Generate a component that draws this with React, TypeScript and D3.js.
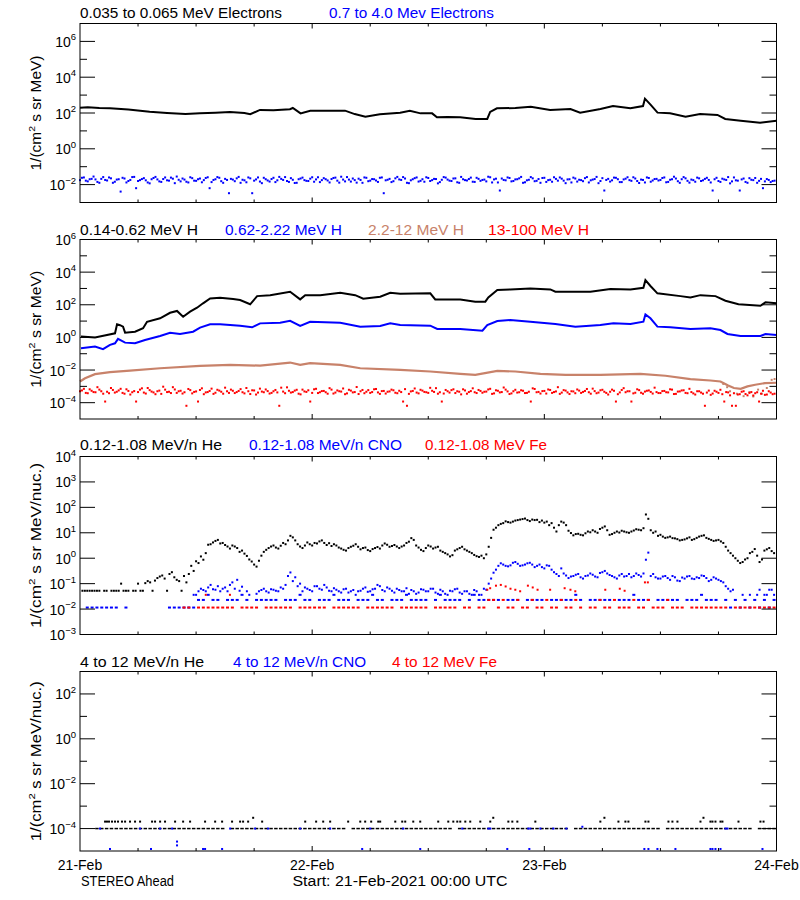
import React from "react";
import * as d3 from "d3";

// ---------- data (hours since 21-Feb-2021 00:00 UTC, log10 flux) ----------
const dayLabels = ["21-Feb", "22-Feb", "23-Feb", "24-Feb"];
const dayHours = [0, 24, 48, 72];

// Panel 1: 0.035-0.065 MeV electrons  [hour, log10]
const electronsLowLog10: [number, number][] = [[0,2.3],[0.8,2.32],[2,2.28],[3.1,2.26],[5,2.2],[7.2,2.07],[9,2.0],[10.9,1.94],[12.4,1.98],[14,2.02],[15.5,2.06],[17,2.0],[17.6,1.93],[18.6,2.17],[20,2.15],[21.7,2.21],[22.0,2.28],[22.8,1.98],[23.8,2.13],[25.5,2.12],[27.4,2.13],[28.4,1.94],[29.5,1.79],[31,1.93],[33.1,2.02],[34.1,2.13],[35.2,1.98],[36.4,1.98],[36.9,1.76],[38,1.77],[39.3,1.76],[40.9,1.67],[42.1,1.67],[42.4,2.06],[43.1,2.26],[45,2.28],[46.6,2.35],[48.6,2.17],[50.7,2.22],[51.7,2.02],[53.8,2.22],[55.1,2.39],[56.9,2.26],[58.2,2.39],[58.4,2.8],[59.0,2.45],[59.7,2.02],[61,1.98],[62.6,1.79],[64.1,1.94],[65.9,1.89],[66.7,1.67],[68.3,1.57],[70.3,1.46],[72,1.57]];

// Panel 1: 0.7-4.0 MeV electrons, sample A every 0.4 h from 0.2 h, sample B every 0.4 h from 0 h
const electronsHighLog10: number[] = [
-1.62,-1.78,-1.70,-1.55,-1.85,-1.68,-1.74,-1.60,-1.90,-1.72,
-2.39,-1.66,-1.80,-1.58,-2.20,-1.75,-1.64,-1.88,-1.70,-1.57,
-1.82,-1.69,-1.76,-1.61,-1.92,-1.73,-1.66,-1.84,-1.59,-1.78,
-1.70,-1.87,-1.63,-2.20,-1.74,-1.58,-1.81,-1.68,-2.48,-1.72,
-1.65,-1.90,-1.76,-1.60,-2.48,-1.71,-1.83,-1.62,-1.77,-1.69,
-1.86,-1.57,-1.74,-1.80,-1.64,-1.91,-1.70,-1.61,-1.79,-1.67,
-1.84,-1.59,-1.75,-1.70,-1.88,-1.63,-1.78,-1.56,-1.82,-1.72,
-1.66,-1.89,-1.74,-1.60,-1.81,-1.69,-1.77,-1.62,-2.48,-1.73,
-1.86,-1.65,-1.71,-1.58,-1.90,-1.76,-1.64,-1.83,-1.70,-1.59,
-1.80,-1.68,-1.93,-1.73,-1.61,-1.78,-1.66,-1.87,-1.57,-1.75,
-1.69,-1.84,-1.62,-1.79,-1.72,-1.56,-1.88,-1.67,-2.33,-1.74,
-1.60,-1.82,-1.71,-1.65,-1.90,-1.76,-1.58,-1.81,-1.69,-1.63,
-1.85,-1.73,-1.59,-1.78,-1.67,-1.92,-1.70,-1.61,-1.83,-1.75,
-1.64,-1.88,-1.72,-1.57,-1.80,-2.33,-1.68,-1.76,-1.62,-1.86,
-1.71,-1.59,-1.79,-1.66,-1.91,-1.74,-1.60,-1.84,-1.69,-1.77,
-1.63,-1.87,-1.73,-1.56,-1.81,-1.70,-1.65,-1.89,-1.75,-1.61,
-1.80,-1.68,-1.74,-2.33,-1.62,-1.85,-1.71,-1.58,-1.82,-1.76,
-2.33,-1.66,-1.90,-1.73,-1.63,-1.79,-2.20,-1.69,-1.86,-1.78];
const electronsHighBLog10: number[] = [
-1.75,-1.6,-1.82,-1.68,-1.71,-1.9,-1.58,-1.77,-1.65,-1.84,
-1.7,-1.62,-1.88,-1.74,-1.57,-1.8,-1.69,-1.76,-1.93,-1.63,
-1.71,-1.85,-1.6,-1.78,-1.67,-1.55,-1.82,-1.72,-1.88,-1.64,
-1.79,-1.66,-1.75,-1.59,-1.86,-1.7,-1.62,-1.9,-1.74,-1.68,
-1.81,-1.57,-1.73,-1.87,-1.65,-1.78,-1.6,-1.92,-1.7,-1.83,
-1.62,-1.76,-1.68,-1.58,-1.85,-1.73,-1.9,-1.66,-1.75,-1.8,
-1.59,-1.71,-1.86,-1.64,-1.77,-1.69,-1.61,-1.89,-1.72,-1.58,
-1.83,-1.75,-1.67,-1.9,-1.62,-1.78,-1.7,-1.85,-1.6,-1.76,
-1.68,-1.81,-1.57,-1.74,-1.66,-1.92,-1.7,-1.6,-1.79,-1.84,
-1.63,-1.75,-1.69,-1.86,-1.58,-1.72,-1.8,-1.65,-1.9,-1.7,
-1.77,-1.61,-1.85,-1.68,-1.74,-1.82,-1.59,-1.71,-1.88,-1.66,
-1.76,-1.63,-1.8,-1.7,-1.57,-1.87,-1.73,-1.65,-1.79,-1.9,
-1.62,-1.75,-1.84,-1.68,-1.6,-1.78,-1.71,-1.88,-1.66,-1.73,
-1.81,-1.58,-1.76,-1.69,-1.92,-1.64,-1.74,-1.83,-1.61,-1.7,
-1.86,-1.67,-1.75,-1.59,-1.8,-1.72,-1.88,-1.63,-1.77,-1.68,
-1.74,-1.6,-1.85,-1.7,-1.66,-1.9,-1.58,-1.79,-1.72,-1.84,
-1.65,-1.76,-1.62,-1.88,-1.7,-1.8,-1.67,-1.74,-1.93,-1.6,
-1.78,-1.71,-1.85,-1.64,-1.75,-1.9,-1.68,-1.82,-1.74,-1.8];

// Panel 2: protons [hour, log10]
const protonsLowLog10: [number, number][] = [[0.1,0.05],[1.55,-0.01],[2.79,0.15],[3.62,0.25],[3.83,0.8],[4.14,0.75],[4.45,0.66],[4.66,0.29],[5.69,0.35],[6.52,0.56],[6.93,0.96],[8.28,1.17],[9.31,1.51],[10.03,1.62],[10.66,1.27],[11.38,1.58],[12.1,1.82],[12.72,2.09],[13.45,2.39],[14.48,2.43],[15.83,2.35],[16.55,2.29],[17.59,2.03],[18.31,2.53],[19.66,2.59],[21.72,2.8],[22.76,2.33],[23.28,2.59],[24.83,2.59],[26.9,2.73],[28.45,2.59],[29.28,2.37],[31.03,2.49],[32.07,2.73],[33.1,2.68],[36.21,2.7],[36.72,2.33],[39.31,2.33],[40.86,2.19],[41.9,2.19],[42.21,2.45],[43.14,2.9],[44.48,2.94],[46.55,3.0],[48.62,2.94],[49.14,2.8],[51.21,2.8],[52.76,2.8],[54.83,2.96],[56.9,2.94],[58.24,3.04],[58.45,3.51],[58.97,3.15],[59.69,2.7],[62.07,2.53],[63.1,2.45],[64.14,2.59],[65.69,2.53],[66.72,2.25],[68.07,2.03],[70.34,1.94],[70.86,2.15],[72,2.09]];
const protonsMidLog10: [number, number][] = [[0.1,-0.66],[1.55,-0.56],[2.38,-0.72],[3.1,-0.46],[3.62,-0.36],[3.93,-0.09],[4.66,-0.32],[5.69,-0.36],[6.72,-0.16],[8.28,0.09],[9.31,0.29],[10.34,0.21],[11.69,0.35],[12.41,0.6],[13.45,0.8],[14.48,0.8],[16.55,0.72],[17.79,0.62],[18.62,0.86],[20.69,0.9],[21.72,1.02],[22.76,0.7],[23.79,0.96],[26.9,0.9],[28.97,0.66],[31.03,0.7],[32.07,0.86],[33.1,0.76],[36.21,0.72],[36.93,0.52],[39.31,0.52],[41.6,0.41],[42.1,0.76],[43.14,1.0],[44.48,1.07],[46.55,0.96],[49.14,0.82],[51.21,0.66],[53.79,0.76],[55.14,0.86],[56.9,0.82],[58.24,0.96],[58.45,1.41],[58.97,1.17],[59.69,0.66],[61.03,0.62],[63.1,0.52],[65.17,0.56],[66.21,0.45],[66.93,0.21],[68.28,0.09],[70.34,0.09],[70.86,0.21],[72,0.15]];
const protonsHighLog10: [number, number][] = [[0,-2.7],[0.52,-2.5],[1.55,-2.25],[3.1,-2.13],[5.17,-2.03],[8.28,-1.89],[12.41,-1.74],[15.52,-1.68],[18.62,-1.73],[21.72,-1.54],[22.76,-1.68],[23.79,-1.58],[26.9,-1.68],[28.97,-1.89],[33.1,-1.99],[36.21,-2.09],[39.31,-2.23],[40.86,-2.29],[43.14,-2.05],[45.0,-2.09],[47.6,-2.23],[50.2,-2.29],[53.79,-2.29],[57.93,-2.23],[60.52,-2.35],[63.1,-2.56],[65.17,-2.64],[66.21,-2.7],[67.0,-2.95],[67.6,-3.1],[68.3,-3.15],[69.0,-3.0],[69.8,-2.9],[70.8,-2.8],[72,-2.78]];
const protonsHighScatterLog10: [number, number][] = [[66.5,-2.85],[66.9,-3.05],[67.2,-3.3],[67.9,-3.45],[68.6,-3.6],[69.2,-3.35],[69.6,-3.62],[70.1,-3.2],[70.5,-3.45],[71.0,-3.1],[71.5,-2.6],[71.8,-2.55]];
// 13-100 MeV H, sample A every 0.4 h from 0.2 h, sample B every 0.4 h from 0 h
const protonsTopLog10: number[] = [
-3.25,-3.40,-3.18,-3.35,-3.05,-3.30,-3.93,-3.42,-3.22,-3.33,
-3.15,-3.45,-3.28,-3.36,-3.93,-3.20,-3.38,-3.10,-3.32,-3.48,
-3.26,-3.02,-3.35,-3.41,-3.19,-3.30,-3.44,-4.19,-3.23,-3.34,
-3.93,-3.12,-3.37,-3.28,-3.46,-3.21,-3.33,-3.08,-3.40,-3.27,
-3.35,-3.17,-3.43,-3.30,-3.24,-3.50,-3.14,-3.36,-3.29,-3.40,
-3.22,-4.19,-3.32,-3.06,-3.38,-3.26,-3.45,-3.20,-3.34,-3.93,
-3.18,-3.41,-3.29,-3.36,-3.11,-3.44,-3.25,-3.32,-3.48,-3.21,
-3.37,-3.04,-3.30,-3.42,-3.23,-3.35,-3.16,-3.46,-3.28,-3.33,
-3.20,-3.39,-3.27,-3.93,-4.19,-3.31,-3.13,-3.43,-3.26,-3.36,
-3.09,-3.34,-3.45,-3.93,-3.22,-3.38,-3.18,-3.30,-3.49,-3.25,
-3.35,-3.12,-3.41,-3.28,-3.33,-3.19,-3.46,-3.24,-3.37,-3.07,
-3.31,-3.43,-3.21,-3.36,-3.27,-3.40,-3.93,-3.16,-3.34,-3.29,
-3.44,-3.22,-3.35,-3.05,-3.38,-3.26,-3.47,-3.31,-3.19,-3.40,
-3.28,-3.36,-3.14,-3.42,-3.24,-3.33,-3.50,-3.20,-3.93,-3.37,
-3.11,-3.30,-3.93,-3.39,-3.23,-3.45,-3.27,-3.34,-3.08,-3.41,
-3.29,-3.36,-3.18,-3.47,-3.32,-3.25,-3.40,-3.15,-3.43,-3.30,
-3.38,-4.19,-3.26,-3.44,-3.33,-3.21,-3.93,-3.37,-4.19,-4.19,
-3.48,-3.30,-3.55,-3.35,-3.42,-3.93,-3.27,-3.50,-3.38,-3.45];
const protonsTopBLog10: number[] = [
-3.3,-3.15,-3.42,-3.27,-3.36,-3.2,-3.45,-3.33,-3.1,-3.38,
-3.25,-3.4,-3.18,-3.5,-3.29,-3.35,-3.12,-3.44,-3.23,-3.37,
-3.3,-3.46,-3.2,-3.33,-3.05,-3.4,-3.27,-3.36,-3.16,-3.43,
-3.31,-3.22,-3.48,-3.35,-3.14,-3.39,-3.26,-3.45,-3.3,-3.2,
-3.41,-3.28,-3.36,-3.1,-3.47,-3.25,-3.38,-3.32,-3.19,-3.44,
-3.3,-3.37,-3.08,-3.42,-3.27,-3.35,-3.21,-3.49,-3.31,-3.24,
-3.4,-3.15,-3.36,-3.28,-3.45,-3.2,-3.38,-3.3,-3.13,-3.43,
-3.26,-3.35,-3.47,-3.22,-3.33,-3.4,-3.18,-3.37,-3.29,-3.44,
-3.31,-3.24,-3.42,-3.35,-3.17,-3.46,-3.28,-3.38,-3.21,-3.34,
-3.4,-3.27,-3.11,-3.36,-3.44,-3.3,-3.23,-3.41,-3.33,-3.18,
-3.45,-3.29,-3.36,-3.22,-3.39,-3.32,-3.15,-3.43,-3.27,-3.35,
-3.2,-3.47,-3.3,-3.38,-3.24,-3.41,-3.33,-3.12,-3.36,-3.44,
-3.28,-3.19,-3.4,-3.31,-3.46,-3.23,-3.37,-3.3,-3.42,-3.26,
-3.34,-3.16,-3.45,-3.29,-3.38,-3.21,-3.4,-3.33,-3.27,-3.48,
-3.22,-3.36,-3.3,-3.43,-3.18,-3.39,-3.32,-3.25,-3.44,-3.35,
-3.41,-3.28,-3.37,-3.2,-3.46,-3.31,-3.24,-3.42,-3.35,-3.5,
-3.3,-3.45,-3.38,-3.52,-3.27,-3.4,-3.48,-3.35,-3.55,-3.42,
-3.5,-3.33,-3.47,-3.4,-3.56,-3.36,-3.45,-3.52,-3.3,-3.48];

// Panel 3: 0.12-1.08 MeV/n, sample A every 0.5 h from 0.25 h, sample B every 0.5 h from 0 h
const heliumLowLog10: (number | null)[] = [
-1.28,-1.28,-1.28,-1.28,null,-1.28,-1.28,-1.28,-1.0,-1.28,
null,-1.28,-1.28,-0.98,-0.95,-0.88,-0.72,-0.8,-0.62,-0.75,
-0.9,-0.7,-0.62,-0.5,-0.19,-0.06,0.53,0.62,0.72,0.6,
0.46,0.5,0.4,0.3,0.09,-0.13,-0.33,0.1,0.33,0.46,
0.42,0.49,0.55,0.88,0.7,0.46,0.5,0.55,0.6,0.66,
0.6,0.59,0.55,0.42,0.33,0.4,0.49,0.45,0.4,0.32,
0.36,0.44,0.5,0.53,0.48,0.46,0.46,0.6,0.79,0.5,
0.33,0.4,0.46,0.42,0.3,0.2,0.07,0.3,0.4,0.35,
0.25,0.13,0.05,0.0,0.45,1.12,1.3,1.38,1.42,1.44,
1.5,1.54,1.5,1.52,1.51,1.48,1.44,1.38,1.05,1.44,
1.3,0.99,0.95,0.92,0.98,1.02,1.05,1.15,1.25,0.92,
1.0,1.01,1.05,1.0,1.09,1.12,1.18,1.55,1.0,0.88,
0.85,0.82,0.79,0.75,0.72,0.78,0.72,0.8,0.88,0.8,
0.72,0.7,0.66,0.45,0.2,0.0,-0.19,-0.05,0.2,0.36,
-0.15,0.3,0.4,0.2];
const heliumLowBLog10: (number | null)[] = [
null,-1.28,-1.28,-1.28,-1.28,-1.28,null,-1.28,-1.28,-1.28,
-1.28,-1.28,-1.0,-1.28,-0.9,-1.28,-0.78,-0.68,-1.28,-0.55,
-0.85,-1.28,-0.95,-0.3,-0.12,0.07,0.2,0.55,0.68,0.58,
0.52,0.38,0.46,0.25,0.18,-0.05,-0.25,-0.1,0.25,0.4,
0.5,0.38,0.6,0.7,0.82,0.55,0.4,0.62,0.5,0.58,
0.7,0.52,0.48,0.5,0.38,0.3,0.45,0.55,0.35,0.42,
0.28,0.4,0.38,0.58,0.45,0.52,0.4,0.5,0.65,0.72,
0.42,0.28,0.5,0.38,0.45,0.25,0.15,0.12,0.35,0.45,
0.3,0.2,0.08,0.1,0.15,0.8,1.2,1.35,1.45,1.4,
1.48,1.52,1.56,1.46,1.5,1.42,1.4,1.3,1.2,1.3,
1.4,1.08,0.9,0.96,0.9,1.05,1.1,1.0,1.2,1.1,
0.95,1.05,1.08,1.02,1.05,1.14,1.1,1.72,1.1,1.05,
0.92,0.8,0.85,0.78,0.7,0.74,0.82,0.75,0.85,0.9,
0.76,0.68,0.72,0.6,0.3,0.1,-0.1,-0.15,0.0,0.25,
0.1,-0.05,0.35,0.28];
const cnoLowLog10: (number | null)[] = [
null,null,null,null,null,null,null,null,null,null,
null,null,null,null,null,null,null,null,null,null,
null,null,null,-1.44,-1.3,-1.25,-1.15,-1.22,-1.1,-1.2,
-1.3,-0.95,-0.85,-1.12,-1.3,null,-1.4,-1.25,-1.3,-1.22,
-1.28,-1.15,-1.05,-0.56,-0.75,-1.0,-1.15,-1.25,-1.1,-1.2,
-1.05,-1.28,-1.18,-1.3,-1.22,-1.35,-1.25,-1.3,-1.2,-1.32,
-1.22,-1.05,-1.25,-1.15,-1.28,-1.2,-1.3,-1.18,-1.25,-1.4,
-1.22,-1.3,-1.2,-1.35,-1.24,-1.4,-1.28,-1.22,-1.35,-1.3,
-1.4,-1.25,-1.44,-1.2,-1.0,-0.57,-0.3,-0.25,-0.32,-0.18,
-0.22,-0.28,-0.2,-0.25,-0.3,-0.35,-0.28,-0.45,-0.62,-0.4,
-0.68,-0.72,-0.65,-0.75,-0.7,-0.6,-0.72,-0.58,-0.5,-0.66,
-0.75,-0.68,-0.72,-0.62,-0.7,-0.66,-0.6,0.22,-0.62,-0.8,
-0.72,-0.78,-0.7,-0.88,-0.76,-0.72,-0.8,-0.75,-0.68,-0.78,
-0.85,-0.8,-0.9,-1.1,-1.3,null,null,null,-1.44,null,
-1.24,-1.44,-1.24,-1.44];
const cnoLowBLog10: (number | null)[] = [
null,null,null,null,null,null,null,null,null,null,
null,null,null,null,null,null,null,null,null,null,
null,null,null,null,-1.44,-1.2,-1.3,-1.05,-1.24,-1.3,
-1.15,-1.05,-1.2,-1.28,null,-1.44,null,-1.3,-1.2,-1.35,
-1.24,-1.3,-1.2,-0.7,-0.9,-1.1,-1.3,-1.2,-1.3,-1.1,
-1.24,-1.15,-1.3,-1.24,-1.35,-1.2,-1.3,-1.44,-1.28,-1.15,
-1.3,-1.2,-1.1,-1.3,-1.2,-1.35,-1.25,-1.3,-1.4,-1.3,
-1.35,-1.24,-1.3,-1.2,-1.4,-1.3,-1.44,-1.3,-1.2,-1.4,
-1.3,-1.44,-1.3,-1.44,-1.24,-0.8,-0.45,-0.2,-0.3,-0.28,
-0.15,-0.3,-0.25,-0.18,-0.35,-0.25,-0.4,-0.3,-0.55,-0.7,
-0.6,-0.78,-0.7,-0.62,-0.8,-0.68,-0.65,-0.75,-0.55,-0.6,
-0.7,-0.8,-0.62,-0.7,-0.75,-0.6,-0.72,-0.06,-0.7,-0.75,
-0.8,-0.7,-0.85,-0.75,-0.9,-0.8,-0.7,-0.82,-0.78,-0.7,
-0.9,-0.75,-0.85,-0.95,-1.2,-1.24,null,-1.44,null,null,
-1.44,null,-1.44,-1.24];
const cnoFloorLog10: (number | null)[] = [
null,-1.94,-1.94,-1.94,-1.94,-1.94,-1.94,-1.94,null,-1.94,
null,null,null,null,null,null,null,null,-1.94,-1.94,
-1.94,-1.94,-1.94,-1.94,-1.64,-1.64,-1.44,-1.64,-1.64,null,
-1.64,-1.64,-1.64,-1.44,-1.64,null,-1.64,-1.64,-1.64,-1.64,
-1.64,null,-1.64,-1.64,-1.64,-1.44,-1.64,-1.64,null,-1.64,
-1.64,-1.64,-1.44,-1.64,-1.64,-1.64,null,-1.64,-1.64,-1.64,
-1.44,-1.64,-1.64,null,-1.64,-1.64,-1.64,-1.44,-1.64,-1.64,
-1.64,-1.64,null,-1.64,-1.44,-1.64,-1.64,-1.64,-1.64,null,
-1.64,-1.44,-1.64,-1.64,-1.64,-1.64,-1.64,null,-1.64,-1.64,
-1.64,null,-1.64,-1.64,-1.64,-1.64,null,-1.64,-1.64,-1.64,
-1.64,-1.64,-1.44,-1.64,null,-1.64,-1.64,-1.64,-1.64,-1.64,
null,-1.64,-1.64,-1.64,-1.44,-1.64,-1.64,-1.64,null,-1.64,
-1.64,-1.64,-1.64,-1.64,null,-1.64,-1.64,-1.64,-1.44,-1.64,
-1.64,-1.64,null,-1.64,-1.94,-1.64,-1.94,-1.64,-1.94,-1.64,
-1.94,-1.64,-1.94,-1.64];
const ironFloorLog10: (number | null)[] = [
null,null,null,null,null,null,null,null,null,null,
null,null,null,null,null,null,null,null,null,null,
null,-1.94,-1.94,null,-1.94,-1.94,-1.94,-1.94,-1.94,-1.94,
-1.94,-1.94,null,-1.94,-1.94,-1.94,-1.94,null,-1.94,-1.94,
-1.94,-1.94,-1.94,-1.94,null,-1.94,-1.94,-1.94,-1.94,-1.94,
-1.94,null,-1.94,-1.94,-1.94,-1.94,-1.94,-1.94,null,-1.94,
-1.94,-1.94,-1.94,-1.94,-1.94,null,-1.94,-1.94,-1.94,-1.94,
-1.94,-1.94,null,-1.94,-1.94,-1.94,-1.94,-1.94,null,-1.94,
-1.94,null,-1.94,-1.94,-1.64,-1.64,-1.94,-1.64,-1.94,-1.94,
-1.64,-1.94,-1.94,-1.64,-1.94,-1.94,-1.64,-1.94,-1.94,-1.64,
-1.94,-1.94,-1.64,-1.94,null,-1.94,-1.94,-1.64,-1.94,-1.94,
-1.64,-1.94,-1.94,-1.94,-1.64,-1.94,-1.94,-1.64,-1.94,-1.94,
-1.94,-1.64,-1.94,-1.94,-1.94,null,-1.94,-1.94,-1.94,-1.94,
-1.94,-1.94,-1.94,-1.94,null,-1.94,-1.94,-1.94,-1.94,-1.94,
-1.94,-1.94,-1.94,-1.94];
const ironLowLog10: [number, number][] = [[13.0,-1.44],[15.5,-1.44],[42.1,-1.24],[42.4,-1.18],[43.0,-1.08],[43.5,-1.05],[44.0,-1.11],[44.5,-1.2],[45.0,-1.24],[45.5,-1.3],[46.3,-1.08],[46.8,-1.15],[47.3,-1.24],[48.6,-1.24],[50.1,-1.18],[50.7,-1.24],[51.2,-1.3],[54.3,-1.24],[55.8,-1.2],[56.3,-1.28],[58.4,-0.95],[58.7,-0.95]];

// Panel 4: 4-12 MeV/n, He floor every 0.5 h from 0.25 h
const heliumHighFloorLog10: (number | null)[] = [
null,null,null,-4,-4,-4,-4,-4,-4,-4,
-4,-4,-4,-4,-4,-4,-4,-4,-4,-4,
-4,-4,-4,-4,-4,-4,-4,-4,-4,-4,
null,-4,-4,-4,-4,-4,-4,-4,-4,-4,
-4,-4,-4,-4,-4,-4,-4,-4,-4,-4,
-4,-4,-4,-4,-4,null,-4,-4,-4,-4,
-4,-4,-4,-4,-4,-4,-4,-4,-4,-4,
-4,-4,-4,-4,-4,-4,-4,null,-4,-4,
-4,-4,-4,-4,-4,-4,-4,-4,-4,-4,
-4,-4,-4,-4,-4,-4,-4,-4,-4,-4,
-4,null,-4,-4,-4,-4,-4,-4,-4,-4,
-4,-4,-4,-4,-4,-4,-4,-4,-4,-4,
null,-4,-4,-4,-4,-4,-4,-4,-4,-4,
-4,-4,-4,-4,-4,-4,-4,-4,-4,null,
-4,-4,-4,-4];
const heliumHighLog10: [number, number][] = [[2.59,-3.69],[2.79,-3.69],[3.0,-3.69],[3.31,-3.69],[3.62,-3.69],[3.93,-3.69],[4.34,-3.69],[4.66,-3.69],[5.17,-3.69],[5.69,-3.69],[6.21,-3.69],[7.45,-3.69],[7.76,-3.69],[8.28,-3.69],[8.79,-3.69],[9.83,-3.69],[10.66,-3.69],[11.38,-3.69],[12.93,-3.69],[13.97,-3.69],[14.69,-3.69],[15.72,-3.69],[16.55,-3.69],[16.86,-3.69],[17.38,-3.69],[17.9,-3.52],[18.83,-3.69],[23.28,-3.69],[24.41,-3.69],[25.14,-3.69],[25.86,-3.69],[27.72,-3.69],[28.97,-3.69],[29.48,-3.69],[30.1,-3.69],[30.83,-3.69],[31.03,-3.69],[32.59,-3.69],[33.31,-3.69],[33.62,-3.69],[34.45,-3.69],[35.17,-3.69],[37.03,-3.69],[38.07,-3.69],[38.59,-3.69],[39.0,-3.69],[39.31,-3.69],[39.83,-3.69],[40.34,-3.69],[41.38,-3.69],[42.41,-3.69],[42.72,-3.52],[44.28,-3.69],[44.69,-3.69],[45.21,-3.69],[47.07,-3.69],[53.79,-3.69],[54.21,-3.52],[55.66,-3.69],[56.38,-3.69],[56.69,-3.69],[58.45,-3.69],[58.76,-3.69],[60.83,-3.69],[61.24,-3.69],[61.76,-3.69],[64.14,-3.69],[64.45,-3.52],[65.17,-3.69],[65.38,-3.69],[65.69,-3.69],[66.21,-3.69],[66.41,-3.69],[68.07,-3.69],[70.34,-3.69],[70.66,-3.69]];
const cnoHighLog10: [number, number][] = [[2.07,-4],[6.21,-4],[8.28,-4],[9.52,-4],[15.52,-4],[18.1,-4],[19.45,-4],[22.76,-4],[25.86,-4],[30.0,-4],[33.41,-4],[39.52,-4],[42.21,-4],[42.41,-4],[46.34,-4],[46.55,-4],[47.59,-4],[48.93,-4],[50.28,-4],[66.72,-4],[66.93,-4],[51.93,-3.92],[3.1,-4.91],[7.34,-4.91],[10.03,-4.58],[10.03,-4.75],[12.72,-4.91],[12.93,-4.91],[14.69,-4.91],[29.17,-4.91],[35.17,-4.91],[44.17,-4.91],[46.45,-4.91],[58.34,-4.91],[58.76,-4.91],[59.69,-4.91],[61.55,-4.91],[65.17,-4.91],[65.38,-4.91],[65.69,-4.91],[66.21,-4.91],[70.55,-4.91]];
const ironHighLog10: [number, number][] = [];

// ---------- layout ----------
const X0 = 80;
const X1 = 776.5;
const FONT = "'Liberation Sans', Arial, sans-serif";
const BLUE = "#0000ff";
const RED = "#ff0000";
const TAN = "#c8826a";

type Title = { text: string; color: string; x: number; len: number };
type PanelCfg = {
  top: number; bottom: number; lo: number; hi: number; every: number;
  titleY: number; titles: Title[]; ylabel: string; ylabelLen: number;
};

const panels: PanelCfg[] = [
  { top: 23.5, bottom: 202.5, lo: -3, hi: 7, every: 2, titleY: 18.3, ylabel: "MeV)", ylabelLen: 115,
    titles: [
      { text: "0.035 to 0.065 MeV Electrons", color: "#000", x: 80, len: 202 },
      { text: "0.7 to 4.0 Mev Electrons", color: BLUE, x: 329, len: 165 },
    ] },
  { top: 239.5, bottom: 419, lo: -5, hi: 6, every: 2, titleY: 235, ylabel: "MeV)", ylabelLen: 117,
    titles: [
      { text: "0.14-0.62 MeV H", color: "#000", x: 80, len: 118 },
      { text: "0.62-2.22 MeV H", color: BLUE, x: 225, len: 117 },
      { text: "2.2-12 MeV H", color: TAN, x: 368, len: 96 },
      { text: "13-100 MeV H", color: RED, x: 488, len: 101 },
    ] },
  { top: 456.5, bottom: 634.5, lo: -3, hi: 4, every: 1, titleY: 450, ylabel: "MeV/nuc.)", ylabelLen: 165,
    titles: [
      { text: "0.12-1.08 MeV/n He", color: "#000", x: 80, len: 142 },
      { text: "0.12-1.08 MeV/n CNO", color: BLUE, x: 249, len: 153 },
      { text: "0.12-1.08 MeV Fe", color: RED, x: 425, len: 122 },
    ] },
  { top: 671.5, bottom: 851, lo: -5, hi: 3, every: 2, titleY: 666.5, ylabel: "MeV/nuc.)", ylabelLen: 160,
    titles: [
      { text: "4 to 12 MeV/n He", color: "#000", x: 80, len: 124 },
      { text: "4 to 12 MeV/n CNO", color: BLUE, x: 233, len: 133 },
      { text: "4 to 12 MeV Fe", color: RED, x: 392, len: 105 },
    ] },
];

const xScale = d3.scaleLinear().domain([0, 72]).range([X0, X1]);
const xTicks = d3.range(0, 73, 6);

function gridPairs(values: (number | null)[], start: number, step: number): [number, number][] {
  const out: [number, number][] = [];
  values.forEach((v, i) => { if (v !== null) out.push([start + i * step, v]); });
  return out;
}

function yScaleFor(p: PanelCfg) {
  return d3.scaleLog().domain([Math.pow(10, p.lo), Math.pow(10, p.hi)]).range([p.bottom, p.top]);
}

function Dots({ data, y, color, w = 2, h = 2 }: { data: [number, number][]; y: any; color: string; w?: number; h?: number }) {
  return (
    <g fill={color}>
      {data.map((d, i) => (
        <rect key={i} x={xScale(d[0]) - w / 2} y={y(Math.pow(10, d[1])) - h / 2} width={w} height={h} />
      ))}
    </g>
  );
}

function Line({ data, y, color, width = 2 }: { data: [number, number][]; y: any; color: string; width?: number }) {
  const gen = d3.line<[number, number]>().x((d) => xScale(d[0])).y((d) => y(Math.pow(10, d[1])));
  return <path d={gen(data) || ""} fill="none" stroke={color} strokeWidth={width} strokeLinejoin="miter" />;
}

function Axes({ p }: { p: PanelCfg }) {
  const y = yScaleFor(p);
  const items: React.ReactNode[] = [];
  for (let e = p.lo; e <= p.hi; e++) {
    const yy = y(Math.pow(10, e));
    const major = e % p.every === 0;
    const len = major ? 15 : 7;
    if (e > p.lo && e < p.hi) {
      items.push(<line key={"l" + e} x1={X0} x2={X0 + len} y1={yy} y2={yy} />);
      items.push(<line key={"r" + e} x1={X1} x2={X1 - len} y1={yy} y2={yy} />);
    }
    if (major) {
      items.push(
        <text key={"t" + e} x={76} y={yy + 5.5} textAnchor="end" fontSize={14} fill="#000" stroke="none" fontFamily={FONT}>
          10<tspan dy={-6.5} fontSize={9.5}>{e < 0 ? "\u2212" + Math.abs(e) : String(e)}</tspan>
        </text>
      );
    }
  }
  xTicks.forEach((h) => {
    const xx = xScale(h);
    const len = h % 24 === 0 ? 5 : 3;
    if (h > 0 && h < 72) {
      items.push(<line key={"xt" + h} x1={xx} x2={xx} y1={p.top} y2={p.top + len} />);
      items.push(<line key={"xb" + h} x1={xx} x2={xx} y1={p.bottom} y2={p.bottom - len} />);
    }
  });
  const cy = (p.top + p.bottom) / 2;
  return (
    <g stroke="#000" strokeWidth={1}>
      <rect x={X0} y={p.top} width={X1 - X0} height={p.bottom - p.top} fill="none" />
      {items}
      <text transform={`translate(40.5,${cy}) rotate(-90)`} textAnchor="middle" fontSize={14} fontFamily={FONT} fill="#000" stroke="none" textLength={p.ylabelLen} lengthAdjust="spacingAndGlyphs">
        1/(cm<tspan dy={-6} fontSize={9.5}>2</tspan><tspan dy={6}>{" s sr " + p.ylabel}</tspan>
      </text>
      {p.titles.map((t, i) => (
        <text key={"ti" + i} x={t.x} y={p.titleY} fontSize={14} fontFamily={FONT} fill={t.color} stroke="none" textLength={t.len} lengthAdjust="spacingAndGlyphs">
          {t.text}
        </text>
      ))}
    </g>
  );
}

export default function App() {
  const [p1, p2, p3, p4] = panels;
  const y1 = yScaleFor(p1);
  const y2 = yScaleFor(p2);
  const y3 = yScaleFor(p3);
  const y4 = yScaleFor(p4);
  return (
    <svg width={800} height={900} style={{ position: "absolute", left: 0, top: 0, background: "#fff" }} fontFamily={FONT}>
      <rect x={0} y={0} width={800} height={900} fill="#fff" />
      {/* panel 1 */}
      <Line data={electronsLowLog10} y={y1} color="#000" />
      <Dots data={gridPairs(electronsHighLog10, 0.2, 0.4)} y={y1} color={BLUE} />
      <Dots data={gridPairs(electronsHighBLog10, 0, 0.4)} y={y1} color={BLUE} />
      {/* panel 2 */}
      <Line data={protonsLowLog10} y={y2} color="#000" />
      <Line data={protonsMidLog10} y={y2} color={BLUE} />
      <Line data={protonsHighLog10} y={y2} color={TAN} width={2.2} />
      <Dots data={protonsHighScatterLog10} y={y2} color={TAN} />
      <Dots data={gridPairs(protonsTopLog10, 0.2, 0.4)} y={y2} color={RED} />
      <Dots data={gridPairs(protonsTopBLog10, 0, 0.4)} y={y2} color={RED} />
      {/* panel 3 */}
      <Dots data={gridPairs(heliumLowLog10, 0.25, 0.5)} y={y3} color="#000" />
      <Dots data={gridPairs(heliumLowBLog10, 0, 0.5)} y={y3} color="#000" />
      <Dots data={gridPairs(cnoLowLog10, 0.25, 0.5)} y={y3} color={BLUE} />
      <Dots data={gridPairs(cnoLowBLog10, 0, 0.5)} y={y3} color={BLUE} />
      <Dots data={gridPairs(cnoFloorLog10, 0.25, 0.5)} y={y3} color={BLUE} w={3} />
      <Dots data={gridPairs(ironFloorLog10, 0.25, 0.5)} y={y3} color={RED} w={3} />
      <Dots data={ironLowLog10} y={y3} color={RED} />
      {/* panel 4 */}
      <Dots data={gridPairs(heliumHighFloorLog10, 0.25, 0.5)} y={y4} color="#000" w={3.5} h={1.5} />
      <Dots data={heliumHighLog10} y={y4} color="#000" />
      <Dots data={cnoHighLog10} y={y4} color={BLUE} />
      <Dots data={ironHighLog10} y={y4} color={RED} />
      {panels.map((p, i) => <Axes key={i} p={p} />)}
      {dayLabels.map((d, i) => (
        <text key={d} x={xScale(dayHours[i])} y={870} textAnchor="middle" fontSize={14} fontFamily={FONT} fill="#000">{d}</text>
      ))}
      <text x={81} y={886} fontSize={14} fontFamily={FONT} fill="#000" textLength={93} lengthAdjust="spacingAndGlyphs">STEREO Ahead</text>
      <text x={292.5} y={886} fontSize={14} fontFamily={FONT} fill="#000" textLength={215} lengthAdjust="spacingAndGlyphs">Start: 21-Feb-2021 00:00 UTC</text>
    </svg>
  );
}
